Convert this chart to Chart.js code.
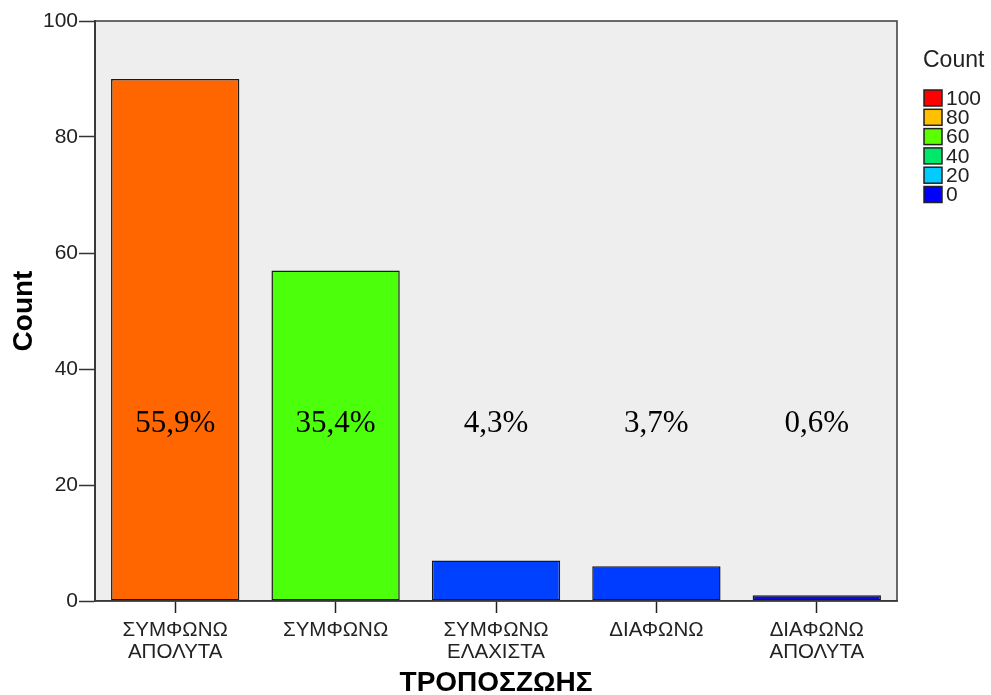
<!DOCTYPE html>
<html>
<head>
<meta charset="utf-8">
<script src="https://cdn.jsdelivr.net/npm/chart.js@4.4.1/dist/chart.umd.min.js"></script>
<style>
  html, body { margin: 0; padding: 0; background: #ffffff; }
  #wrap { width: 991px; height: 695px; position: relative; }
</style>
</head>
<body>
<div id="wrap"><canvas id="chart-canvas"></canvas></div>
<script>
// categories and counts
const categories = [
  ['ΣΥΜΦΩΝΩ', 'ΑΠΟΛΥΤΑ'],
  'ΣΥΜΦΩΝΩ',
  ['ΣΥΜΦΩΝΩ', 'ΕΛΑΧΙΣΤΑ'],
  'ΔΙΑΦΩΝΩ',
  ['ΔΙΑΦΩΝΩ', 'ΑΠΟΛΥΤΑ']
];
const counts = [90, 57, 7, 6, 1];
const percentLabels = ['55,9%', '35,4%', '4,3%', '3,7%', '0,6%'];
const barColors = ['#FF6600', '#4CFF0B', '#0040FF', '#003CFF', '#0A0ADC'];
const yTicks = [0, 20, 40, 60, 80, 100];

// colour legend (count scale)
const legendLabels = ['100', '80', '60', '40', '20', '0'];
const legendColors = ['#FF0000', '#FFC000', '#5CFF00', '#00E86A', '#00CCFF', '#0000FF'];

const SANS = 'Arial, "Liberation Sans", sans-serif';
const SERIF = '"Times New Roman", "Liberation Serif", serif';
const PCT_LEVEL = 30.5; // value level where the percent labels sit

const plotBackground = {
  id: 'plotBackground',
  beforeDraw(chart) {
    const { ctx, chartArea: a } = chart;
    ctx.save();
    ctx.fillStyle = '#EEEEEE';
    ctx.fillRect(a.left, a.top, a.right - a.left, a.bottom - a.top);
    ctx.restore();
  },
  afterDraw(chart) {
    const { ctx, chartArea: a } = chart;
    ctx.save();
    ctx.strokeStyle = '#3a3a3a';
    ctx.lineWidth = 1.5;
    ctx.strokeRect(a.left, a.top, a.right - a.left, a.bottom - a.top);
    ctx.restore();
  }
};

const percentText = {
  id: 'percentText',
  afterDatasetsDraw(chart) {
    const { ctx } = chart;
    const meta = chart.getDatasetMeta(0);
    const y = chart.scales.y.getPixelForValue(PCT_LEVEL);
    ctx.save();
    ctx.font = '31px ' + SERIF;
    ctx.fillStyle = '#000';
    ctx.textAlign = 'center';
    ctx.textBaseline = 'middle';
    meta.data.forEach((bar, i) => {
      ctx.fillText(percentLabels[i], bar.x, y);
    });
    ctx.restore();
  }
};

const countLegend = {
  id: 'countLegend',
  afterDraw(chart) {
    const { ctx } = chart;
    const x0 = 923;
    ctx.save();
    ctx.font = '23px ' + SANS;
    ctx.fillStyle = '#222';
    ctx.textBaseline = 'middle';
    ctx.textAlign = 'left';
    ctx.fillText('Count', x0, 61);
    ctx.font = '21px ' + SANS;
    legendLabels.forEach((lab, i) => {
      const cy = 98 + i * 19.3;
      ctx.fillStyle = legendColors[i];
      ctx.fillRect(x0 + 1, cy - 8, 18, 16);
      ctx.strokeStyle = '#222';
      ctx.lineWidth = 1.5;
      ctx.strokeRect(x0 + 1, cy - 8, 18, 16);
      ctx.fillStyle = '#222';
      ctx.fillText(lab, x0 + 23, cy + 1);
    });
    ctx.restore();
  }
};

const ctx = document.getElementById('chart-canvas').getContext('2d');
new Chart(ctx, {
  type: 'bar',
  data: {
    labels: categories,
    datasets: [{
      data: counts,
      backgroundColor: barColors,
      borderColor: '#1a1a1a',
      borderWidth: 1.5,
      borderSkipped: false,
      barPercentage: 0.8,
      categoryPercentage: 1
    }]
  },
  options: {
    responsive: true,
    maintainAspectRatio: false,
    animation: false,
    layout: { padding: { top: 21, right: 94, left: 0, bottom: 0 } },
    plugins: {
      legend: { display: false },
      tooltip: { enabled: false }
    },
    scales: {
      x: {
        offset: true,
        afterFit(scale) { scale.height = 94; },
        grid: {
          offset: false,
          drawOnChartArea: false,
          drawTicks: true,
          tickLength: 12,
          tickColor: '#222',
          tickWidth: 1.5
        },
        border: { display: true, color: '#3a3a3a', width: 1.5 },
        ticks: {
          color: '#222',
          padding: 6,
          maxRotation: 0,
          autoSkip: false,
          font: { family: SANS, size: 20.5, lineHeight: 1.1 }
        },
        title: {
          display: true,
          text: 'ΤΡΟΠΟΣΖΩΗΣ',
          color: '#000',
          padding: { top: 0, bottom: 0 },
          font: { family: SANS, size: 28, weight: 'bold', lineHeight: 0.85 }
        }
      },
      y: {
        min: 0,
        max: 100,
        afterFit(scale) { scale.width = 95; },
        afterBuildTicks(scale) { scale.ticks = yTicks.map(v => ({ value: v })); },
        grid: {
          drawOnChartArea: false,
          drawTicks: true,
          tickLength: 16,
          tickColor: '#333',
          tickWidth: 1.5
        },
        border: { display: true, color: '#3a3a3a', width: 2 },
        ticks: {
          color: '#222',
          padding: 1,
          font: { family: SANS, size: 21 }
        },
        title: {
          display: true,
          text: 'Count',
          color: '#000',
          padding: { top: 7, bottom: 0 },
          font: { family: SANS, size: 28, weight: 'bold' }
        }
      }
    }
  },
  plugins: [plotBackground, percentText, countLegend]
});
</script>
</body>
</html>
